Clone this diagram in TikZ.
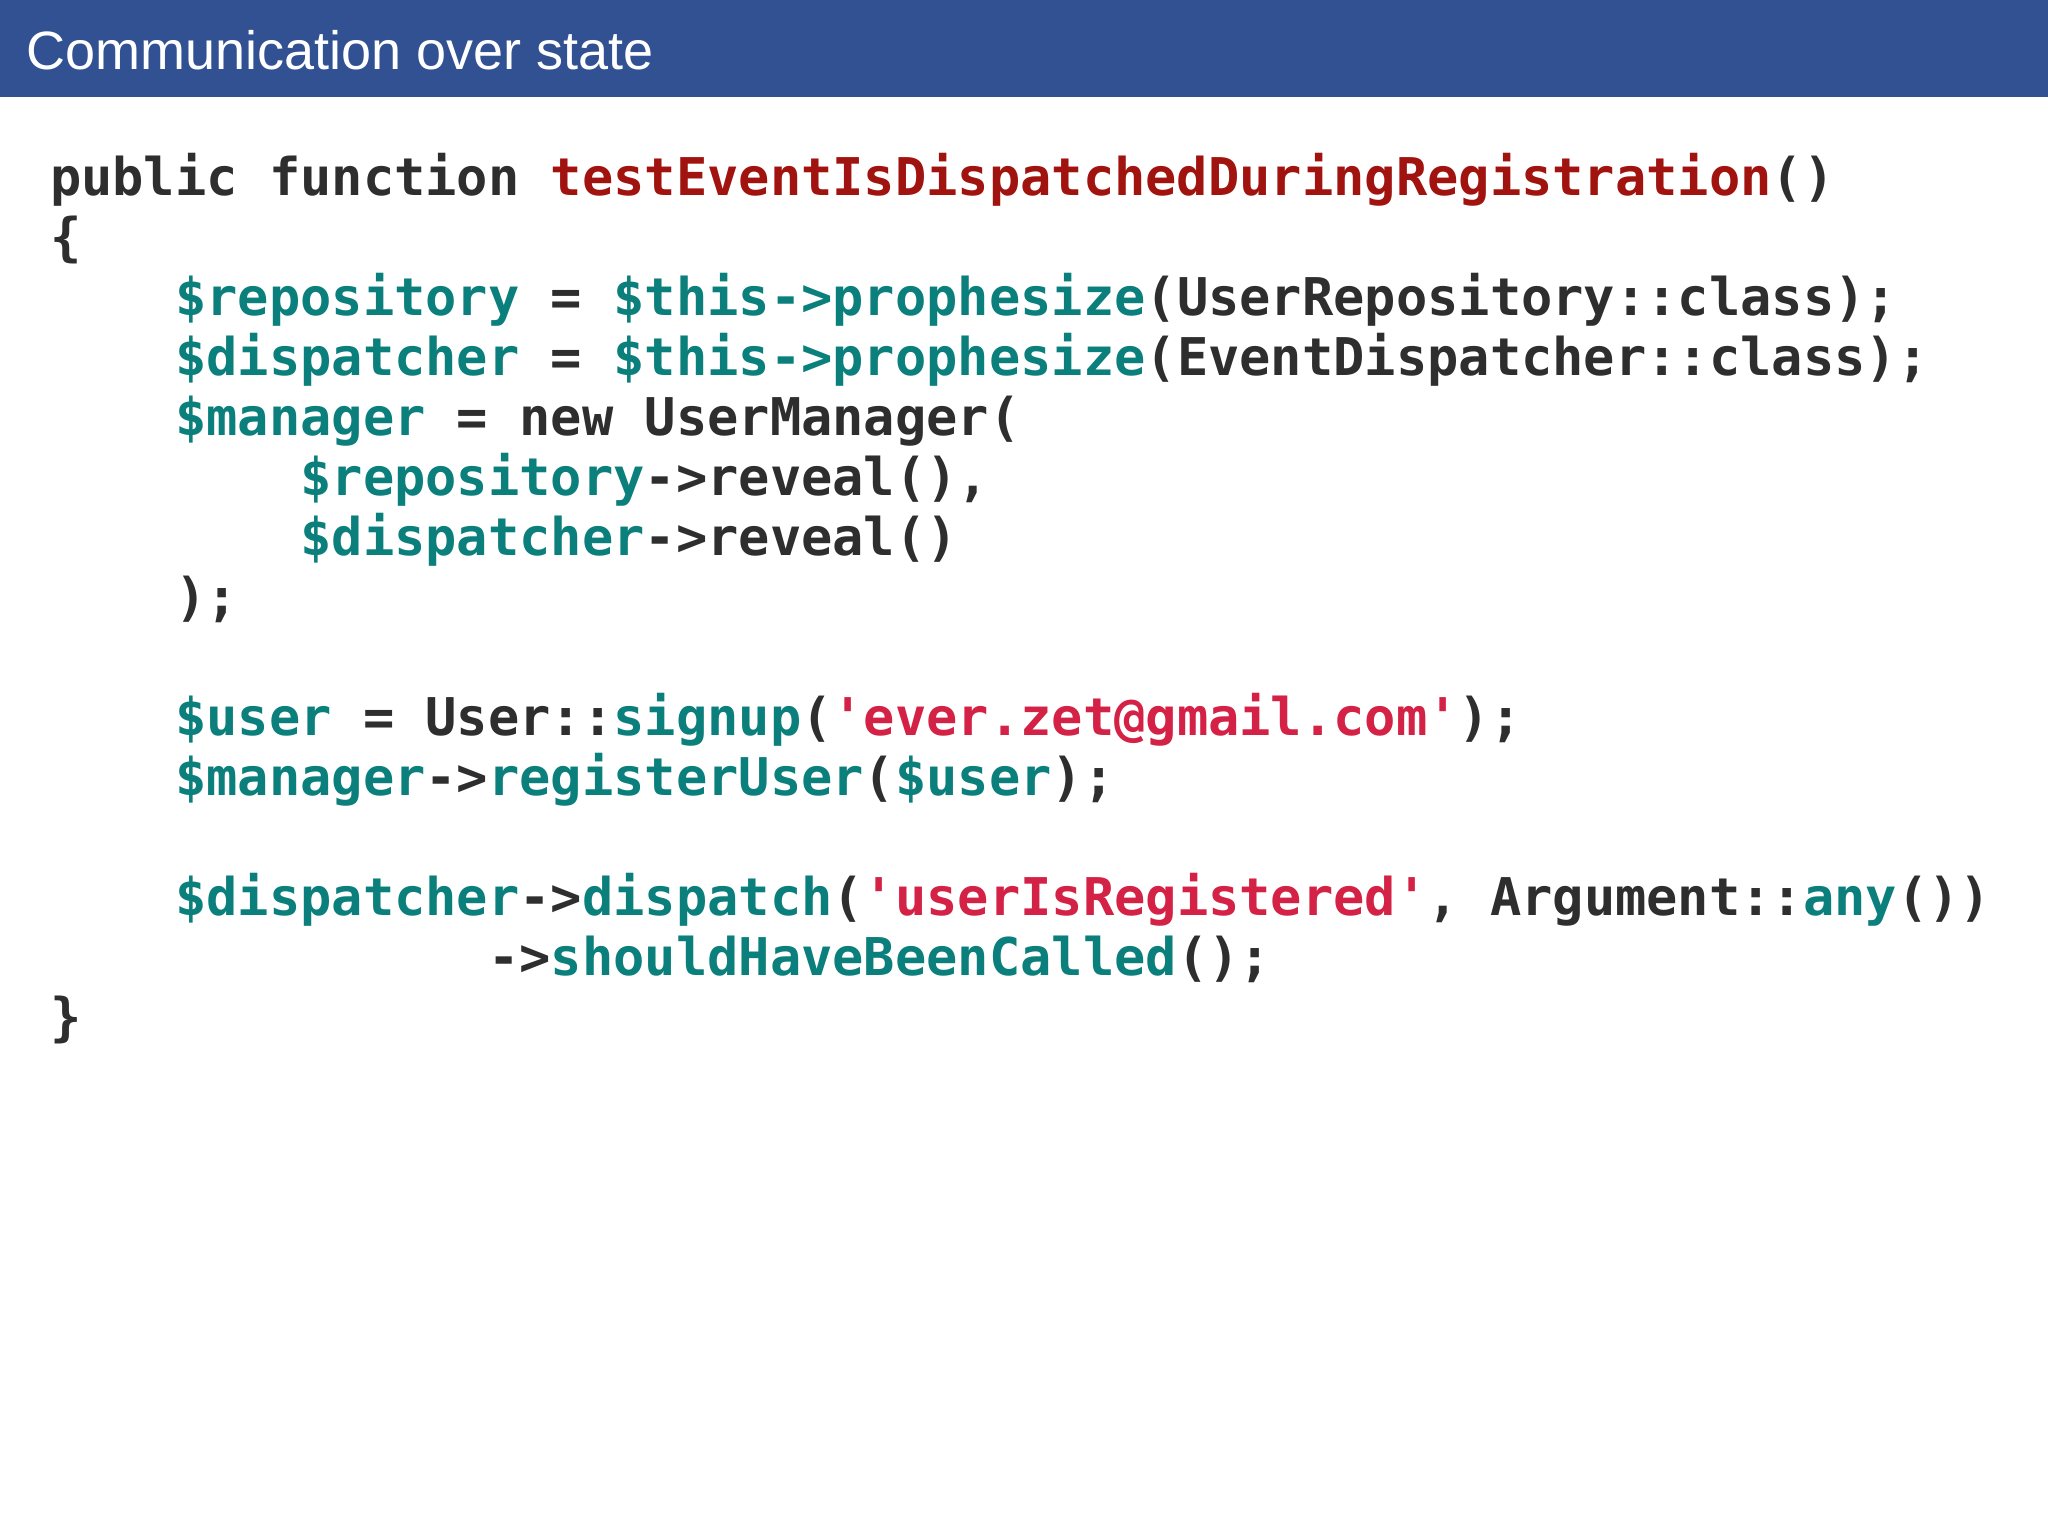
\documentclass[tikz,border=0pt]{standalone}
\usepackage{fontspec}
\setmainfont{Liberation Sans}
\newfontfamily\code{DejaVu Sans Mono}[BoldFont={DejaVu Sans Mono Bold}]
\definecolor{hdr}{HTML}{325193}
\definecolor{tl}{HTML}{0B7F7B}
\definecolor{fn}{HTML}{A0130F}
\definecolor{str}{HTML}{D42246}
\definecolor{txt}{HTML}{2E2E2E}
\newcommand{\T}[1]{\textcolor{tl}{#1}}
\newcommand{\F}[1]{\textcolor{fn}{#1}}
\newcommand{\Sq}[1]{\textcolor{str}{#1}}
\newcommand{\ind}[1]{\hspace*{#1\fontcharwd\font`0}}
\begin{document}
\begin{tikzpicture}[x=1pt,y=1pt,
  cl/.style={anchor=base west,inner sep=0pt,font=\code\bfseries\fontsize{26}{30}\selectfont,text=txt}]
\useasboundingbox (0,0) rectangle (1024,768);
\fill[white] (0,0) rectangle (1024,768);
\fill[hdr] (0,719.5) rectangle (1024,768);
\node[anchor=base west,inner sep=0pt,text=white,font=\fontsize{27}{30}\selectfont] (title) at (13,733) {Communication over state};
\def\X{24.8}
\node[cl] (l0) at (\X,670) {public function \F{testEventIsDispatchedDuringRegistration}()};
\node[cl] (l1) at (\X,640) {\{};
\node[cl] (l2) at (\X,610) {\ind{4}\T{\$repository} = \T{\$this->prophesize}(UserRepository::class);};
\node[cl] (l3) at (\X,580) {\ind{4}\T{\$dispatcher} = \T{\$this->prophesize}(EventDispatcher::class);};
\node[cl] (l4) at (\X,550) {\ind{4}\T{\$manager} = new UserManager(};
\node[cl] (l5) at (\X,520) {\ind{8}\T{\$repository}->reveal(),};
\node[cl] (l6) at (\X,490) {\ind{8}\T{\$dispatcher}->reveal()};
\node[cl] (l7) at (\X,460) {\ind{4});};
\node[cl] (l9) at (\X,400) {\ind{4}\T{\$user} = User::\T{signup}(\Sq{'ever.zet@gmail.com'});};
\node[cl] (l10) at (\X,370) {\ind{4}\T{\$manager}->\T{registerUser}(\T{\$user});};
\node[cl] (l12) at (\X,310) {\ind{4}\T{\$dispatcher}->\T{dispatch}(\Sq{'userIsRegistered'}, Argument::\T{any}())};
\node[cl] (l13) at (\X,280) {\ind{14}->\T{shouldHaveBeenCalled}();};
\node[cl] (l14) at (\X,250) {\}};
\end{tikzpicture}
\end{document}
